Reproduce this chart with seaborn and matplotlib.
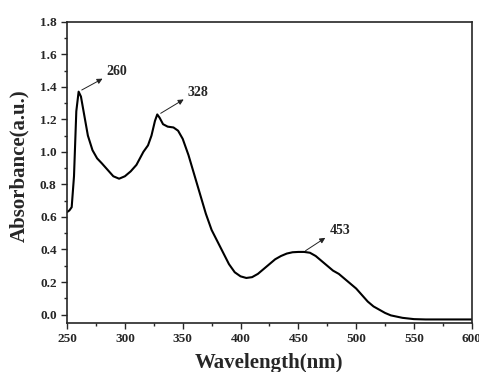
import numpy as np
import pandas as pd
import matplotlib
matplotlib.use('Agg')
import matplotlib.pyplot as plt
from matplotlib.ticker import MultipleLocator, FormatStrFormatter
import seaborn as sns

# spectrum
wavelength = [250, 252, 254, 256, 258, 260, 262, 265, 268, 272, 276, 280, 285, 290, 295,
              300, 305, 310, 313, 316, 320, 323, 326, 328, 330, 333, 337, 342, 346, 350,
              355, 360, 365, 370, 375, 380, 385, 390, 395, 400, 405, 410, 415, 420, 425,
              430, 435, 440, 445, 450, 455, 460, 465, 470, 475, 480, 485, 490, 495, 500,
              505, 510, 515, 520, 525, 530, 540, 550, 560, 580, 600]
absorbance = [0.63, 0.64, 0.66, 0.85, 1.25, 1.37, 1.34, 1.22, 1.10, 1.01, 0.96, 0.93, 0.89, 0.85, 0.835,
              0.85, 0.88, 0.92, 0.96, 1.00, 1.04, 1.10, 1.19, 1.23, 1.21, 1.17, 1.155, 1.15, 1.13, 1.08,
              0.98, 0.86, 0.74, 0.62, 0.52, 0.45, 0.38, 0.31, 0.26, 0.235, 0.225, 0.23, 0.25, 0.28, 0.31,
              0.34, 0.36, 0.375, 0.383, 0.385, 0.385, 0.38, 0.36, 0.33, 0.30, 0.27, 0.25, 0.22, 0.19, 0.16,
              0.12, 0.08, 0.05, 0.03, 0.01, -0.005, -0.02, -0.028, -0.03, -0.03, -0.03]

peak_labels = ['260', '328', '453']
peak_xy = [(260.6, 1.372), (328.9, 1.228), (454.2, 0.383)]
arrow_tip = [(282.8, 1.458), (352.9, 1.331), (475.3, 0.481)]

df = pd.DataFrame({'Wavelength(nm)': wavelength, 'Absorbance(a.u.)': absorbance})

sns.set_style("ticks")
plt.rcParams['font.family'] = ['Liberation Serif', 'DejaVu Serif']
plt.rcParams['font.weight'] = 'bold'

fig = plt.figure(figsize=(4.79, 3.72), dpi=100)
ax = fig.add_axes([0.14, 0.1325, 0.845, 0.8092])

sns.lineplot(data=df, x='Wavelength(nm)', y='Absorbance(a.u.)', color='black', linewidth=1.5, ax=ax)

for lab, p, t in zip(peak_labels, peak_xy, arrow_tip):
    ax.annotate('', xy=t, xytext=p,
                arrowprops=dict(arrowstyle='-|>', color='#222222', lw=0.7, mutation_scale=8))
    ax.text(t[0] + 1.5, t[1] + 0.035, lab, fontsize=10, fontweight='bold', va='center', ha='left')

ax.set_xlim(250, 600)
ax.set_ylim(-0.05, 1.8)
ax.xaxis.set_major_locator(MultipleLocator(50))
ax.xaxis.set_minor_locator(MultipleLocator(25))
ax.yaxis.set_major_locator(MultipleLocator(0.2))
ax.yaxis.set_minor_locator(MultipleLocator(0.1))
ax.yaxis.set_major_formatter(FormatStrFormatter('%.1f'))
ax.tick_params(which='major', direction='out', length=4.5, width=1, labelsize=9.5, pad=3)
ax.tick_params(which='minor', direction='out', length=2.5, width=1)
for lbl in ax.get_xticklabels() + ax.get_yticklabels():
    lbl.set_fontweight('bold')
for s in ax.spines.values():
    s.set_visible(True)
    s.set_linewidth(1.2)

ax.set_xlabel('Wavelength(nm)', fontsize=15, fontweight='bold', labelpad=6)
ax.set_ylabel('Absorbance(a.u.)', fontsize=15, fontweight='bold')
ax.yaxis.set_label_coords(-0.094, 0.52)

fig.savefig('out.png', dpi=100)
